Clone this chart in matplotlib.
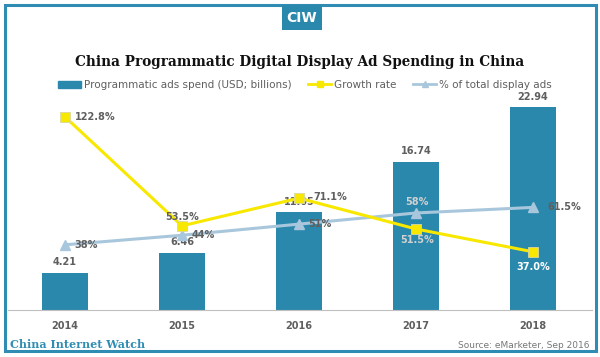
import matplotlib.pyplot as plt
from matplotlib.patches import Rectangle
from matplotlib.lines import Line2D

# donnees
annees = ['2014', '2015', '2016', '2017', '2018']
depenses = [4.21, 6.46, 11.05, 16.74, 22.94]
croissance = [122.8, 53.5, 71.1, 51.5, 37.0]
part_display = [38, 44, 51, 58, 61.5]
labels_croissance = ['122.8%', '53.5%', '71.1%', '51.5%', '37.0%']
labels_part = ['38%', '44%', '51%', '58%', '61.5%']

bleu = '#2a88ad'
jaune = '#f8e800'
bleu_clair = '#a9c7dc'
gris = '#5f5f5f'

fig = plt.figure(figsize=(6, 3.57), dpi=100)
W, H = 600, 357

def fx(px):
    return px / W

def fy(py):
    return 1 - py / H

# cadre
fig.patches.append(Rectangle((fx(5), fy(351)), fx(591), 346 / H, transform=fig.transFigure,
                             fill=False, edgecolor='#2f8db3', linewidth=2.2))
# logo CIW
fig.patches.append(Rectangle((fx(282), fy(30)), fx(40), 25 / H, transform=fig.transFigure,
                             facecolor=bleu, edgecolor='none'))
fig.text(fx(302), fy(17.5), 'CIW', color='white', fontsize=10, fontweight='bold',
         ha='center', va='center', family='DejaVu Sans Condensed')

fig.text(0.5, fy(62), 'China Programmatic Digital Display Ad Spending in China',
         ha='center', va='center', fontsize=9.8, fontweight='bold', family='DejaVu Serif',
         color='#111111')

ax = fig.add_axes([fx(8), fy(310), fx(584), 230 / H])
x = list(range(len(annees)))
ax.bar(x, depenses, width=0.4, color=bleu, zorder=1)
ax.set_xlim(-0.487, 4.504)
ax.set_ylim(0, 26.0)
for s in ['top', 'right', 'left']:
    ax.spines[s].set_visible(False)
ax.spines['bottom'].set_color('#bfbfbf')
ax.set_yticks([])
ax.set_xticks(x)
ax.set_xticklabels(annees, fontsize=7, fontweight='bold', color=gris)
ax.tick_params(axis='x', length=0, pad=8)
for i, v in enumerate(depenses):
    ax.annotate(f'{v:.2f}', (i, v), xytext=(0, 4), textcoords='offset points',
                ha='center', va='bottom', fontsize=7, fontweight='bold', color=gris, zorder=5)

# axe part du display
ax3 = ax.twinx()
ax3.set_ylim(-3.0, 141.6)
ax3.plot(x, part_display, color=bleu_clair, linewidth=2.2, marker='^', markersize=7,
         markeredgecolor=bleu_clair, zorder=3)
ax3.axis('off')

# axe croissance
ax2 = ax.twinx()
ax2.set_ylim(0, 146.2)
ax2.plot(x, croissance, color=jaune, linewidth=2.2, marker='s', markersize=6.5,
         markeredgecolor='#d8d8a0', markeredgewidth=0.6, zorder=4)
ax2.axis('off')

# etiquettes
pos_c = [((7, 0), 'left', 'center', gris), ((0, 3), 'center', 'bottom', gris),
         ((10, 1), 'left', 'center', gris), ((1, -4), 'center', 'top', '#d0d0d0'),
         ((0, -7), 'center', 'top', 'white')]
for i, v in enumerate(croissance):
    off, ha, va, c = pos_c[i]
    ax2.annotate(labels_croissance[i], (i, v), xytext=off, textcoords='offset points',
                 ha=ha, va=va, fontsize=7, fontweight='bold', color=c, zorder=6)

pos_p = [((7, 0), 'left', 'center', gris), ((7, 0), 'left', 'center', gris),
         ((7, 0), 'left', 'center', gris), ((1, 4), 'center', 'bottom', '#d0d0d0'),
         ((10, 0), 'left', 'center', gris)]
for i, v in enumerate(part_display):
    off, ha, va, c = pos_p[i]
    ax3.annotate(labels_part[i], (i, v), xytext=off, textcoords='offset points',
                 ha=ha, va=va, fontsize=7, fontweight='bold', color=c, zorder=6)

# legende
poignees = [Rectangle((0, 0), 1, 1, color=bleu),
            Line2D([], [], color=jaune, linewidth=2, marker='s', markersize=5),
            Line2D([], [], color=bleu_clair, linewidth=2, marker='^', markersize=5)]
noms = ['Programmatic ads spend (USD; billions)', 'Growth rate', '% of total display ads']
leg = fig.legend(poignees, noms, loc='center', bbox_to_anchor=(fx(305), fy(85)), ncol=3,
                 frameon=False, fontsize=7.5, handlelength=2.2, handleheight=0.7,
                 columnspacing=1.6, handletextpad=0.3)
for t in leg.get_texts():
    t.set_color(gris)

fig.text(fx(10), fy(344), 'China Internet Watch', ha='left', va='center', fontsize=8,
         fontweight='bold', family='DejaVu Serif', color='#2f8db3')
fig.text(fx(590), fy(346), 'Source: eMarketer, Sep 2016', ha='right', va='center',
         fontsize=6.5, color='#777777')

fig.savefig('out.png', dpi=100)
